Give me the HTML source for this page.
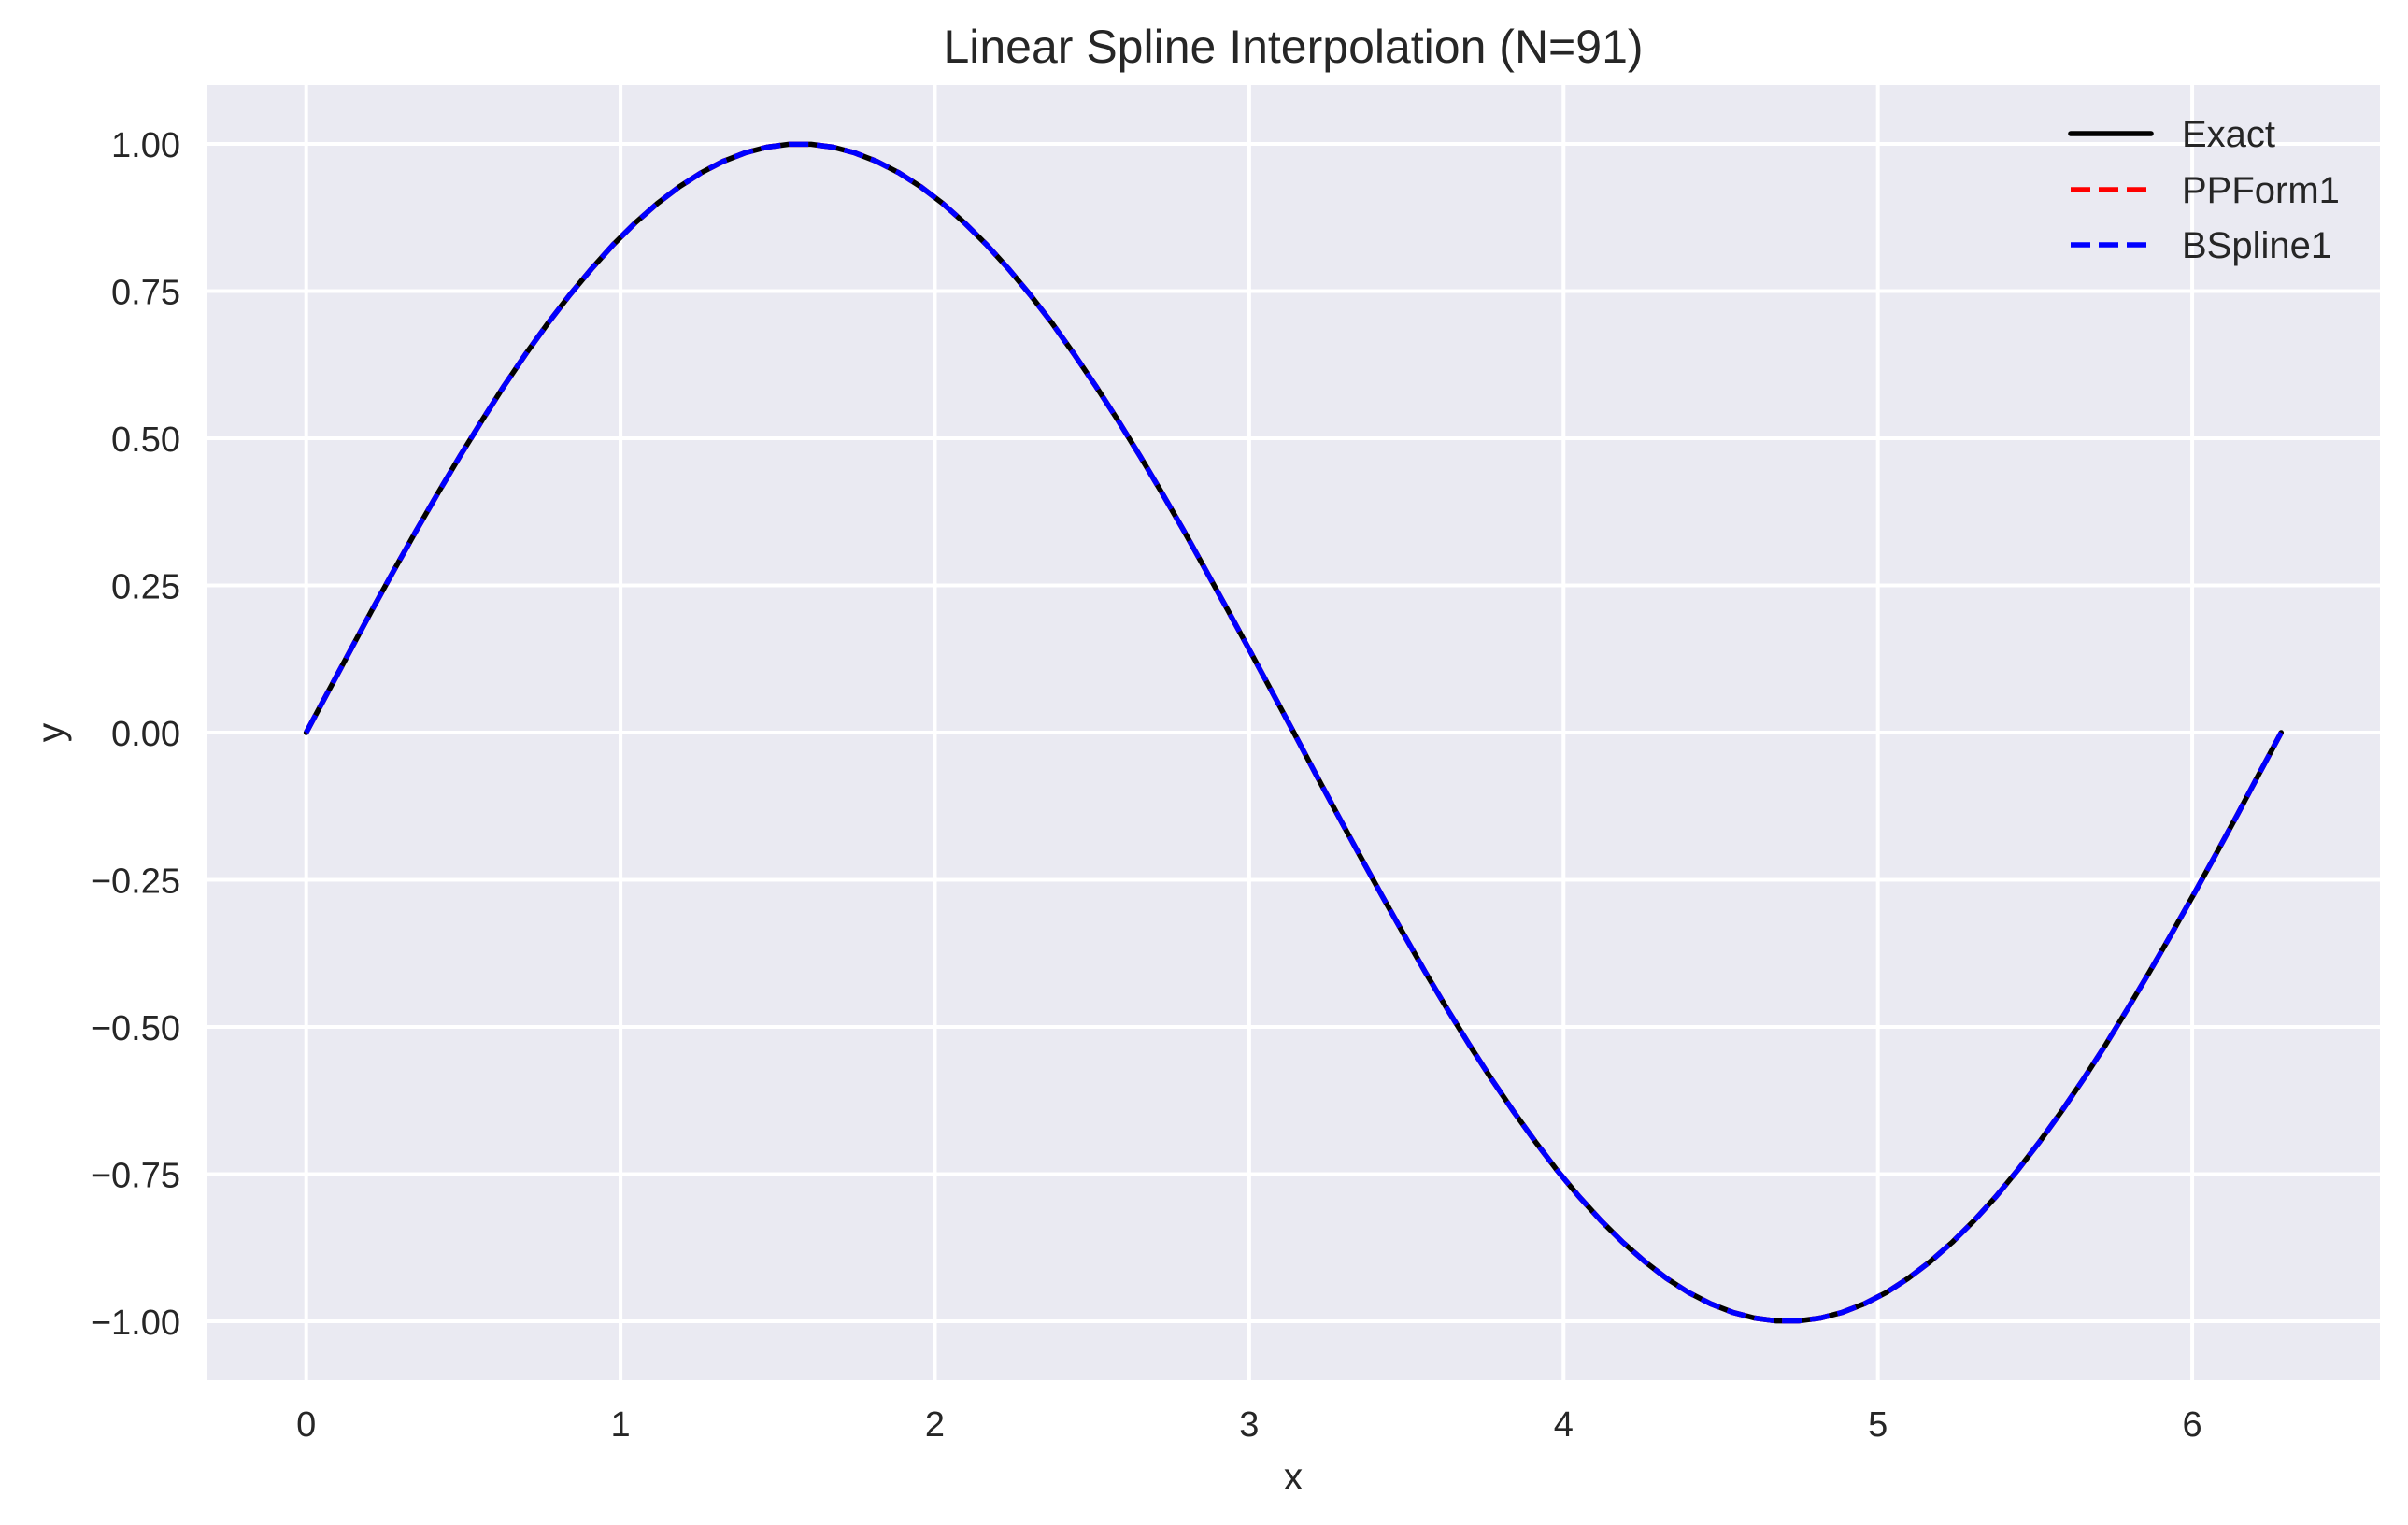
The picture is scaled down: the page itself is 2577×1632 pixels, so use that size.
<!DOCTYPE html>
<html><head><meta charset="utf-8">
<style>
html,body{margin:0;padding:0;background:#fff;}
svg{display:block;font-family:"Liberation Sans",Arial,sans-serif;}
</style></head>
<body>
<svg id="chart" width="2577" height="1632" viewBox="0 0 2577 1632" xmlns="http://www.w3.org/2000/svg">
<rect x="0" y="0" width="2577" height="1632" fill="#ffffff"/>
<rect x="222" y="91" width="2325" height="1386" fill="#eaeaf2"/>
<g id="grid"></g>
<g id="ticks"></g>
<g id="series"></g>
<text x="1384" y="67" font-size="50" fill="#262626" text-anchor="middle">Linear Spline Interpolation (N=91)</text>
<text x="1384" y="1594" font-size="41" fill="#262626" text-anchor="middle">x</text>
<text x="68" y="784" font-size="41" fill="#262626" text-anchor="middle" transform="rotate(-90 68 784)">y</text>
<g>
  <line x1="2216" y1="143" x2="2302" y2="143" stroke="#000" stroke-width="5.6" stroke-linecap="round"/>
  <text x="2335" y="157" font-size="40" fill="#262626">Exact</text>
  <line x1="2216" y1="203" x2="2302" y2="203" stroke="#ff0000" stroke-width="5.6" stroke-dasharray="21,9"/>
  <text x="2335" y="217" font-size="40" fill="#262626">PPForm1</text>
  <line x1="2216" y1="262" x2="2302" y2="262" stroke="#0000ff" stroke-width="5.6" stroke-dasharray="21,9"/>
  <text x="2335" y="276" font-size="40" fill="#262626">BSpline1</text>
</g>
</svg>
<script>
const xValues = [0,0.070,0.140,0.209,0.279,0.349,0.419,0.489,0.559,0.628,0.698,0.768,0.838,0.908,0.977,1.047,1.117,1.187,1.257,1.326,1.396,1.466,1.536,1.606,1.676,1.745,1.815,1.885,1.955,2.025,2.094,2.164,2.234,2.304,2.374,2.443,2.513,2.583,2.653,2.723,2.793,2.862,2.932,3.002,3.072,3.142,3.211,3.281,3.351,3.421,3.491,3.560,3.630,3.700,3.770,3.840,3.910,3.979,4.049,4.119,4.189,4.259,4.328,4.398,4.468,4.538,4.608,4.677,4.747,4.817,4.887,4.957,5.027,5.096,5.166,5.236,5.306,5.376,5.445,5.515,5.585,5.655,5.725,5.794,5.864,5.934,6.004,6.074,6.144,6.213,6.283];
const exactValues = [0,0.0698,0.1392,0.2079,0.2756,0.3420,0.4067,0.4695,0.5299,0.5878,0.6428,0.6947,0.7431,0.7880,0.8290,0.8660,0.8988,0.9272,0.9511,0.9703,0.9848,0.9945,0.9994,0.9994,0.9945,0.9848,0.9703,0.9511,0.9272,0.8988,0.8660,0.8290,0.7880,0.7431,0.6947,0.6428,0.5878,0.5299,0.4695,0.4067,0.3420,0.2756,0.2079,0.1392,0.0698,0,-0.0698,-0.1392,-0.2079,-0.2756,-0.3420,-0.4067,-0.4695,-0.5299,-0.5878,-0.6428,-0.6947,-0.7431,-0.7880,-0.8290,-0.8660,-0.8988,-0.9272,-0.9511,-0.9703,-0.9848,-0.9945,-0.9994,-0.9994,-0.9945,-0.9848,-0.9703,-0.9511,-0.9272,-0.8988,-0.8660,-0.8290,-0.7880,-0.7431,-0.6947,-0.6428,-0.5878,-0.5299,-0.4695,-0.4067,-0.3420,-0.2756,-0.2079,-0.1392,-0.0698,0];
const ppformValues = exactValues.slice();
const bsplineValues = exactValues.slice();
const xTicks = [0,1,2,3,4,5,6];
const xTickLabels = ["0","1","2","3","4","5","6"];
const yTicks = [1,0.75,0.5,0.25,0,-0.25,-0.5,-0.75,-1];
const yTickLabels = ["1.00","0.75","0.50","0.25","0.00","\u22120.25","\u22120.50","\u22120.75","\u22121.00"];

const NS = "http://www.w3.org/2000/svg";
const xMin = -0.314159, xMax = 6.597345, yMin = -1.1, yMax = 1.1;
const L = 222, R = 2547, T = 91, B = 1477;
function sx(v){ return L + (v - xMin) / (xMax - xMin) * (R - L); }
function sy(v){ return B - (v - yMin) / (yMax - yMin) * (B - T); }
function mk(tag, attrs, parent){ const e = document.createElementNS(NS, tag); for (const k in attrs) e.setAttribute(k, attrs[k]); parent.appendChild(e); return e; }

const grid = document.getElementById('grid');
const ticks = document.getElementById('ticks');
xTicks.forEach((t, i) => {
  const g = mk('line', {x1: sx(t), x2: sx(t), y1: T, y2: B, stroke: '#ffffff', 'stroke-width': 4}, grid);
  
  
  const lb = mk('text', {x: sx(t), y: 1537, 'font-size': 38, fill: '#262626', 'text-anchor': 'middle'}, ticks);
  lb.textContent = xTickLabels[i];
  
  
});
yTicks.forEach((t, i) => {
  const g = mk('line', {x1: L, x2: R, y1: sy(t), y2: sy(t), stroke: '#ffffff', 'stroke-width': 4}, grid);
  
  
  const lb = mk('text', {x: 193, y: sy(t) + 14, 'font-size': 38, fill: '#262626', 'text-anchor': 'end'}, ticks);
  lb.textContent = yTickLabels[i];
  
  
});

const series = document.getElementById('series');
function pts(ys){ return xValues.map((x, i) => sx(x).toFixed(2) + ',' + sy(ys[i]).toFixed(2)).join(' '); }
const l1 = mk('polyline', {points: pts(exactValues), fill: 'none', stroke: '#000000', 'stroke-width': 5.6, 'stroke-linecap': 'round', 'stroke-linejoin': 'round'}, series);


const l2 = mk('polyline', {points: pts(ppformValues), fill: 'none', stroke: '#ff0000', 'stroke-width': 5.6, 'stroke-dasharray': '21,9'}, series);


const l3 = mk('polyline', {points: pts(bsplineValues), fill: 'none', stroke: '#0000ff', 'stroke-width': 5.6, 'stroke-dasharray': '21,9'}, series);


</script>
</body></html>
